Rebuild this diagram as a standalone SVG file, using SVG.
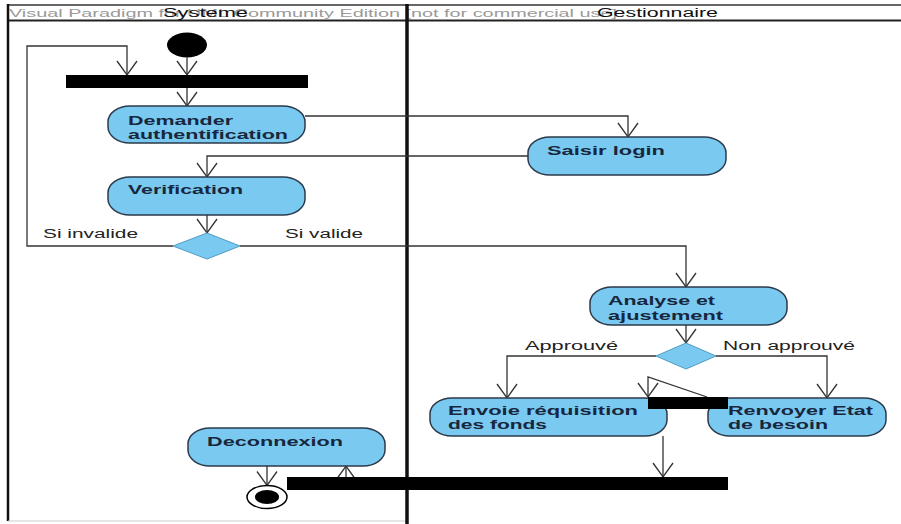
<svg xmlns="http://www.w3.org/2000/svg" width="901" height="524" viewBox="0 0 901 524">
  <style>
    .node { fill: #7ac9f0; stroke: #2b3a4a; stroke-width: 1.5; }
    .dec { fill: #7ac9f0; stroke: #4f9cc6; stroke-width: 1; }
    .bar { fill: #000; }
    .edge { fill: none; stroke: #333; stroke-width: 1.3; }
    .lbl { font-family: "Liberation Sans", Arial, sans-serif; font-weight: bold; font-size: 13px; fill: #17273d; }
    .guard { font-family: "Liberation Sans", Arial, sans-serif; font-size: 12px; fill: #222; }
    .lane { font-family: "Liberation Sans", Arial, sans-serif; font-size: 12px; fill: #111; }
    .wm { font-family: "Liberation Sans", Arial, sans-serif; font-size: 11px; fill: #9a9a9a; }
  </style>
  <defs>
    <marker id="arr" markerUnits="userSpaceOnUse" markerWidth="18" markerHeight="24" viewBox="-16 -12 18 24" refX="0" refY="0" orient="auto">
      <path d="M-14,-10 L0,0 L-14,10" fill="none" stroke="#333" stroke-width="1.3"/>
    </marker>
  </defs>

  <rect x="0" y="0" width="901" height="524" fill="#fff"/>

  <!-- swimlane frame -->
  <g id="frame">
    <text class="wm" x="9" y="17" textLength="608" lengthAdjust="spacingAndGlyphs">Visual Paradigm for UML Community Edition [not for commercial use]</text>
    <line x1="8" y1="5" x2="901" y2="5" stroke="#333" stroke-width="1.5"/>
    <line x1="8" y1="20.5" x2="901" y2="20.5" stroke="#222" stroke-width="2"/>
    <line x1="8" y1="4" x2="8" y2="521" stroke="#111" stroke-width="2.5"/>
    <line x1="8" y1="521" x2="407" y2="521" stroke="#ccc" stroke-width="1"/>
    <line x1="407" y1="4" x2="407" y2="524" stroke="#111" stroke-width="3.5"/>
    <text class="lane" x="163" y="17" textLength="85" lengthAdjust="spacingAndGlyphs">Systeme</text>
    <text class="lane" x="597" y="17" textLength="121" lengthAdjust="spacingAndGlyphs">Gestionnaire</text>
  </g>

  <!-- control flows -->
  <g id="connectors">
    <path class="edge" d="M187,57.5 L187,75" marker-end="url(#arr)"/>
    <path class="edge" d="M173,246 L27,246 L27,46 L127,46 L127,75" marker-end="url(#arr)"/>
    <path class="edge" d="M187,88 L187,106" marker-end="url(#arr)"/>
    <path class="edge" d="M305,116 L628,116 L628,137" marker-end="url(#arr)"/>
    <path class="edge" d="M528,156 L207,156 L207,177" marker-end="url(#arr)"/>
    <path class="edge" d="M207,215 L207,233" marker-end="url(#arr)"/>
    <path class="edge" d="M240,246 L686,246 L686,287" marker-end="url(#arr)"/>
    <path class="edge" d="M686,325 L686,343" marker-end="url(#arr)"/>
    <path class="edge" d="M656,356 L507,356 L507,398" marker-end="url(#arr)"/>
    <path class="edge" d="M716,356 L827,356 L827,398" marker-end="url(#arr)"/>
    <path class="edge" d="M707,397 L648,377 L648,397" marker-end="url(#arr)"/>
    <path class="edge" d="M663,436 L663,477" marker-end="url(#arr)"/>
    <path class="edge" d="M346,477 L346,466" marker-end="url(#arr)"/>
    <path class="edge" d="M267,466 L267,485.5" marker-end="url(#arr)"/>
    <text class="guard" x="43" y="238" textLength="95" lengthAdjust="spacingAndGlyphs">Si invalide</text>
    <text class="guard" x="285" y="238" textLength="78" lengthAdjust="spacingAndGlyphs">Si valide</text>
    <text class="guard" x="525" y="350" textLength="93" lengthAdjust="spacingAndGlyphs">Approuvé</text>
    <text class="guard" x="723" y="350" textLength="132" lengthAdjust="spacingAndGlyphs">Non approuvé</text>
  </g>

  <g id="start">
    <ellipse cx="187" cy="45" rx="20" ry="12.5" fill="#000"/>
  </g>

  <g id="fork">
    <rect class="bar" x="66" y="75" width="242" height="13"/>
  </g>

  <g id="demander-authentification">
    <rect class="node" x="108" y="106" width="197" height="37" rx="22" ry="16"/>
    <text class="lbl" x="128" y="125" textLength="105" lengthAdjust="spacingAndGlyphs">Demander</text>
    <text class="lbl" x="128" y="139" textLength="160" lengthAdjust="spacingAndGlyphs">authentification</text>
  </g>

  <g id="saisir-login">
    <rect class="node" x="528" y="137" width="198" height="38" rx="22" ry="16"/>
    <text class="lbl" x="547" y="155" textLength="118" lengthAdjust="spacingAndGlyphs">Saisir login</text>
  </g>

  <g id="verification">
    <rect class="node" x="108" y="177" width="197" height="38" rx="22" ry="16"/>
    <text class="lbl" x="128" y="194" textLength="115" lengthAdjust="spacingAndGlyphs">Verification</text>
  </g>

  <g id="decision-validite">
    <polygon class="dec" points="173,246 207,233 240,246 207,259"/>
  </g>

  <g id="analyse-ajustement">
    <rect class="node" x="590" y="287" width="197" height="38" rx="22" ry="16"/>
    <text class="lbl" x="608" y="305" textLength="107" lengthAdjust="spacingAndGlyphs">Analyse et</text>
    <text class="lbl" x="608" y="320" textLength="115" lengthAdjust="spacingAndGlyphs">ajustement</text>
  </g>

  <g id="decision-approbation">
    <polygon class="dec" points="656,356 686,343 716,356 686,369"/>
  </g>

  <g id="envoie-requisition">
    <rect class="node" x="430" y="398" width="237" height="38" rx="22" ry="16"/>
    <text class="lbl" x="448" y="415" textLength="190" lengthAdjust="spacingAndGlyphs">Envoie réquisition</text>
    <text class="lbl" x="448" y="429" textLength="99" lengthAdjust="spacingAndGlyphs">des fonds</text>
  </g>

  <g id="renvoyer-etat">
    <rect class="node" x="708" y="398" width="178" height="38" rx="22" ry="16"/>
    <text class="lbl" x="728" y="415" textLength="145" lengthAdjust="spacingAndGlyphs">Renvoyer Etat</text>
    <text class="lbl" x="728" y="429" textLength="100" lengthAdjust="spacingAndGlyphs">de besoin</text>
  </g>

  <g id="join-small">
    <rect class="bar" x="648" y="397" width="80" height="12"/>
  </g>

  <g id="deconnexion">
    <rect class="node" x="188" y="428" width="197" height="38" rx="22" ry="16"/>
    <text class="lbl" x="207" y="446" textLength="136" lengthAdjust="spacingAndGlyphs">Deconnexion</text>
  </g>

  <g id="join">
    <rect class="bar" x="287" y="477" width="441" height="13"/>
  </g>

  <g id="end">
    <ellipse cx="267" cy="497" rx="20" ry="11.5" fill="#fff" stroke="#000" stroke-width="1.5"/>
    <ellipse cx="267" cy="497" rx="12" ry="7" fill="#000"/>
  </g>
</svg>
